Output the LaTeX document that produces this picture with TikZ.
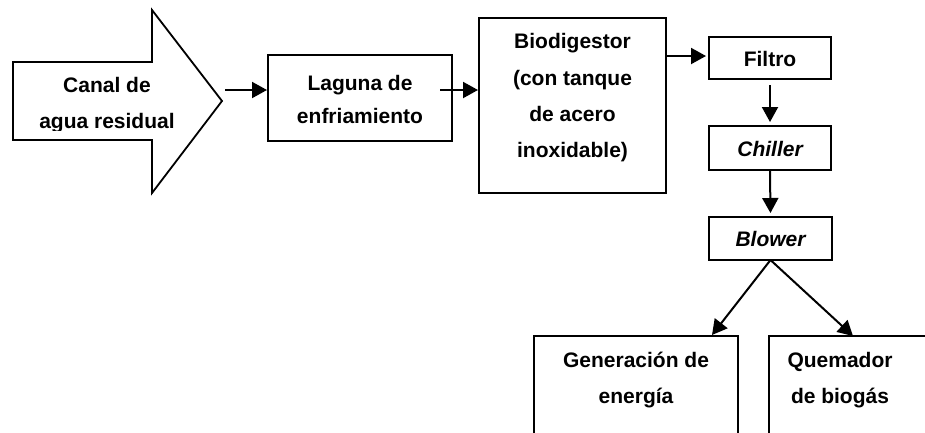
\documentclass[tikz,border=0pt]{standalone}
\usepackage{fontspec}
\setmainfont{Liberation Sans}
\usetikzlibrary{arrows.meta}
\begin{document}
\begin{tikzpicture}[x=1pt,y=-1pt,
  box/.style={draw,line width=2pt,inner sep=0pt},
  txt/.style={align=center,font=\fontsize{21}{35.5}\selectfont\bfseries,inner sep=0pt},
  conn/.style={line width=2pt,-{Triangle[length=15pt,width=16pt]}}]
\clip (0,0) rectangle (925,432);
\fill[white] (0,0) rectangle (925,432);
% big arrow
\draw[line width=1.8pt] (13,62) -- (152,62) -- (152,10) -- (222,101) -- (152,193) -- (152,140) -- (13,140) -- cycle;
\begin{scope}
\clip (13,62) rectangle (222,130);
\node[txt] (canal) at (107,105) {Canal de\\agua residual};
\end{scope}
\coordinate (canalout) at (225,90);
% boxes
\node[box,minimum width=184pt,minimum height=86pt] (laguna) at (360,98) {};
\node[txt,font=\fontsize{21}{33}\selectfont\bfseries] (lagunat) at (360,99) {Laguna de\\enfriamiento};
\coordinate (lagunaout) at (440,90);
\node[box,minimum width=187pt,minimum height=175pt] (bio) at (572.5,105.5) {};
\node[txt,font=\fontsize{21}{36.3}\selectfont\bfseries] (biot) at (572.5,98) {Biodigestor\\(con tanque\\de acero\\inoxidable)};
\node[box,minimum width=122pt,minimum height=42pt] (filtro) at (770,58) {};
\node[txt] (filtrot) at (770,59) {Filtro};
\node[box,minimum width=122pt,minimum height=44pt] (chiller) at (770,148) {};
\node[txt] (chillert) at (770,149) {\itshape Chiller};
\node[box,minimum width=123pt,minimum height=43pt] (blower) at (770.5,238.5) {};
\node[txt] (blowert) at (770.5,239) {\itshape Blower};
\node[box,minimum width=204pt,minimum height=134pt] (gen) at (636,403) {};
\node[txt,font=\fontsize{21}{36}\selectfont\bfseries] (gent) at (636,380) {Generación de\\energía};
\node[box,minimum width=160pt,minimum height=134pt] (quem) at (849,403) {};
\node[txt,font=\fontsize{21}{36}\selectfont\bfseries] (quemt) at (840,380) {Quemador\\de biogás};
% connectors
\draw[conn] (canalout) -- (laguna.west |- canalout);
\draw[conn] (lagunaout) -- (bio.west |- lagunaout);
\draw[conn] (bio.east |- 0,56) -- ([xshift=-2pt]filtro.west |- 0,56);
\draw[conn,shorten <=5pt,shorten >=3pt] (filtro.south) -- (chiller.north);
\draw[conn,shorten >=3pt] (chiller.south) -- (blower.north);
\coordinate (bl) at ([yshift=1pt]blower.south);
\draw[conn] (bl) -- (712,335);
\draw[conn] (bl) -- (853,336);
\end{tikzpicture}
\end{document}
